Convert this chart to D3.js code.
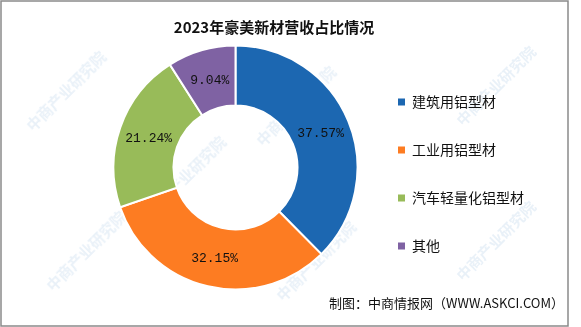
<!DOCTYPE html>
<html>
<head>
<meta charset="utf-8">
<script src="https://cdn.jsdelivr.net/npm/d3@7"></script>
<style>
  html, body { margin: 0; padding: 0; background: #fff; }
  svg { display: block; }
</style>
</head>
<body>
<div id="chart"></div>
<script>
// chart data
const categories = ["建筑用铝型材", "工业用铝型材", "汽车轻量化铝型材", "其他"];
const shares = [37.57, 32.15, 21.24, 9.04];
const colors = ["#1c67b1", "#fd7c22", "#98bb59", "#7f62a3"];
const title = "2023年豪美新材营收占比情况";
const source = "制图：中商情报网（WWW.ASKCI.COM）";

const width = 581, height = 327;
const cx = 235.5, cy = 167.5;
const outerR = 122, innerR = 62;

const svg = d3.select("#chart").append("svg")
  .attr("width", width)
  .attr("height", height);

// watermark, faint diagonal text
const wm = svg.append("g").attr("fill", "#cfe0f0").attr("opacity", 0.45)
  .style("font-family", "'Noto Sans CJK SC', sans-serif")
  .style("font-size", "15px").style("font-weight", "bold");
[[70, 95], [300, 110], [500, 90], [90, 255], [320, 265], [500, 245], [190, 180]]
  .forEach(([x, y]) => {
    wm.append("text")
      .attr("transform", `translate(${x},${y}) rotate(-45)`)
      .attr("text-anchor", "middle")
      .text("中商产业研究院");
  });

// frame
svg.append("rect")
  .attr("x", 1).attr("y", 1)
  .attr("width", 567).attr("height", 325)
  .attr("fill", "none")
  .attr("stroke", "#8a8a8a")
  .attr("stroke-width", 1.5);

// title
svg.append("text")
  .attr("x", 274).attr("y", 33)
  .attr("text-anchor", "middle")
  .style("font-family", "'Noto Sans CJK SC', sans-serif")
  .style("font-size", "15px")
  .style("font-weight", "bold")
  .attr("fill", "#111")
  .text(title);

// donut
const pie = d3.pie().sort(null).value(d => d)(shares);
const arc = d3.arc().innerRadius(innerR).outerRadius(outerR);
const labelArc = d3.arc().innerRadius(92).outerRadius(92);

const g = svg.append("g").attr("transform", `translate(${cx},${cy})`);

g.selectAll("path")
  .data(pie)
  .enter()
  .append("path")
  .attr("d", arc)
  .attr("fill", (d, i) => colors[i])
  .attr("stroke", "#fff")
  .attr("stroke-width", 2);

g.selectAll("text")
  .data(pie)
  .enter()
  .append("text")
  .attr("transform", d => `translate(${labelArc.centroid(d)})`)
  .attr("text-anchor", "middle")
  .attr("dy", "0.35em")
  .style("font-family", "'Liberation Mono', monospace")
  .style("font-size", "13px")
  .attr("fill", "#111")
  .text(d => d.data.toFixed(2) + "%");

// legend
const legend = svg.append("g");
const legendY = d3.scalePoint().domain(categories).range([102, 246]);

categories.forEach((c, i) => {
  const y = legendY(c);
  legend.append("rect")
    .attr("x", 398).attr("y", y - 3.5)
    .attr("width", 7).attr("height", 7)
    .attr("fill", colors[i]);
  legend.append("text")
    .attr("x", 412).attr("y", y)
    .attr("dy", "0.36em")
    .style("font-family", "'Noto Sans CJK SC', sans-serif")
    .style("font-size", "14px")
    .attr("fill", "#111")
    .text(c);
});

// source note
svg.append("text")
  .attr("x", 564).attr("y", 308)
  .attr("text-anchor", "end")
  .style("font-family", "'Noto Sans CJK SC', sans-serif")
  .style("font-size", "13px")
  .attr("fill", "#111")
  .text(source);
</script>
</body>
</html>
